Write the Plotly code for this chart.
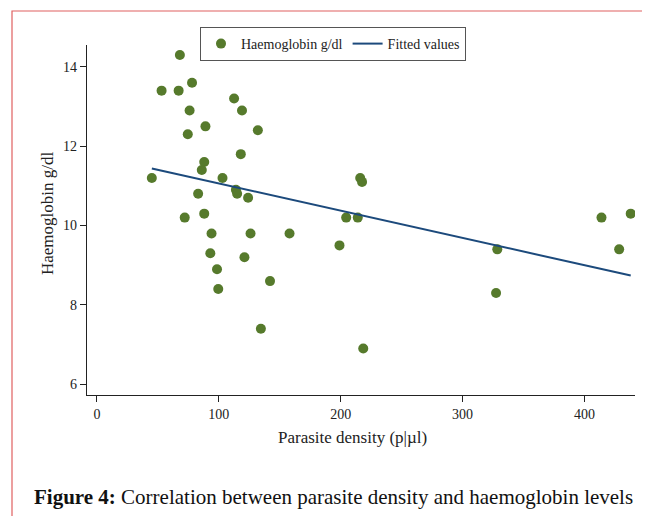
import plotly.graph_objects as go

# Data
parasite_density = [45, 53, 68, 67, 78, 76, 74.5, 89, 112.5, 119, 132, 118, 88, 86, 103,
                    114, 115, 124, 83, 72, 88, 94, 126, 93, 121, 98.5, 99.5, 142, 134.5,
                    158, 199, 204.5, 214, 216, 217.5, 218.5, 328.5, 327.5, 414, 428.5, 438]
haemoglobin = [11.2, 13.4, 14.3, 13.4, 13.6, 12.9, 12.3, 12.5, 13.2, 12.9, 12.4, 11.8, 11.6, 11.4, 11.2,
               10.9, 10.8, 10.7, 10.8, 10.2, 10.3, 9.8, 9.8, 9.3, 9.2, 8.9, 8.4, 8.6, 7.4,
               9.8, 9.5, 10.2, 10.2, 11.2, 11.1, 6.9, 9.4, 8.3, 10.2, 9.4, 10.3]
fit_x = [45, 438]
fit_y = [11.44, 8.74]
x_ticks = [0, 100, 200, 300, 400]
y_ticks = [6, 8, 10, 12, 14]

# page has an 8px body margin; figure is sized to fill the rest of the window
OFF = 8
W, H = 650 - OFF, 516 - OFF
PL, PR, PT, PB = 87, 635, 45, 395          # plot area in page pixels
L, R, T, B = PL - OFF, W - (PR - OFF), PT - OFF, H - (PB - OFF)
PW, PH = PR - PL, PB - PT


def px(xp):
    return (xp - PL) / PW


def py(yp):
    return (PB - yp) / PH


serif = "Liberation Serif"

fig = go.Figure()
fig.add_trace(go.Scatter(
    x=parasite_density, y=haemoglobin, mode="markers", name="Haemoglobin g/dl",
    marker=dict(color="#567a2c", size=10, line=dict(width=0)),
))
fig.add_trace(go.Scatter(
    x=fit_x, y=fit_y, mode="lines", name="Fitted values",
    line=dict(color="#1c4a7c", width=2),
))

fig.update_layout(
    width=W, height=H,
    margin=dict(l=L, r=R, t=T, b=B),
    paper_bgcolor="white", plot_bgcolor="white",
    font=dict(family=serif, color="#222", size=14),
    showlegend=True,
    legend=dict(
        orientation="h", x=px(200), y=py(27), xanchor="left", yanchor="top",
        bordercolor="#555", borderwidth=1, bgcolor="white",
        font=dict(family=serif, size=14, color="#222"),
        itemwidth=30, tracegroupgap=0,
    ),
    xaxis=dict(
        range=[-8.2, 441.5], tickvals=x_ticks, showgrid=False, zeroline=False,
        showline=True, linecolor="#222", linewidth=1.2,
        ticks="outside", ticklen=6, tickcolor="#222",
        tickfont=dict(family=serif, size=14, color="#222"),
    ),
    yaxis=dict(
        range=[5.73, 14.55], tickvals=y_ticks, showgrid=False, zeroline=False,
        showline=True, linecolor="#222", linewidth=1.2,
        ticks="outside", ticklen=6, tickcolor="#222",
        tickfont=dict(family=serif, size=14, color="#222"),
    ),
    shapes=[
        dict(type="rect", xref="paper", yref="paper",
             x0=px(12), x1=px(700), y0=py(560), y1=py(11),
             line=dict(color="#e06060", width=1.2), layer="below"),
    ],
    annotations=[
        dict(text="Parasite density (p|µl)", xref="paper", yref="paper",
             x=px(352), y=py(437), xanchor="center", yanchor="middle",
             showarrow=False, font=dict(family=serif, size=17, color="#222")),
        dict(text="Haemoglobin g/dl", xref="paper", yref="paper",
             x=px(47), y=py(213), xanchor="center", yanchor="middle", textangle=-90,
             showarrow=False, font=dict(family=serif, size=17, color="#222")),
        dict(text="<b>Figure 4:</b> Correlation between parasite density and haemoglobin levels",
             xref="paper", yref="paper", x=px(333), y=py(497),
             xanchor="center", yanchor="middle",
             showarrow=False, font=dict(family=serif, size=21, color="#111")),
    ],
)

fig.write_html("out.html")
